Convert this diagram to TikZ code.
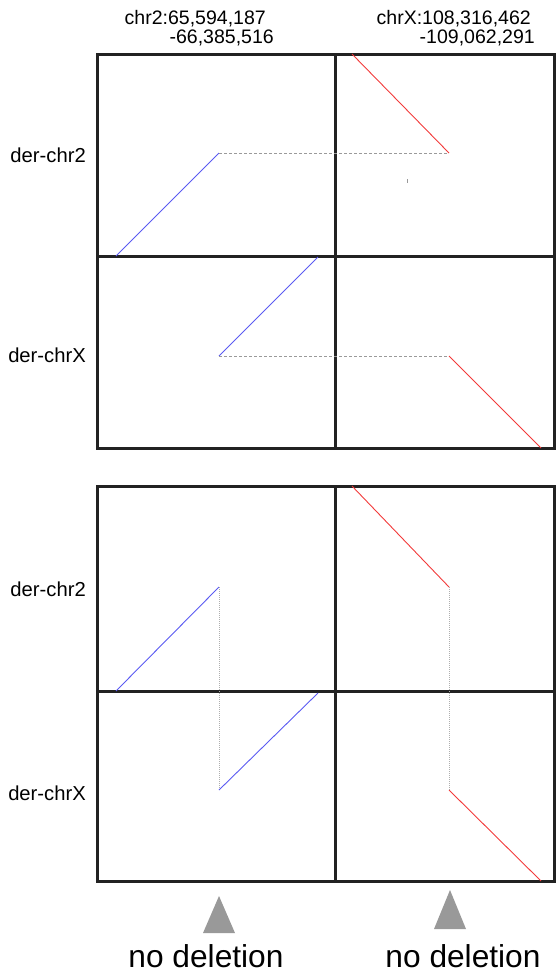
\documentclass[tikz,border=0pt]{standalone}
\usepackage{fontspec}
\setmainfont{Liberation Sans}
\usetikzlibrary{positioning,calc}
\definecolor{segA}{HTML}{5a5af2}
\definecolor{segB}{HTML}{f23a3a}
\definecolor{frameC}{HTML}{222222}
\definecolor{linkC}{HTML}{9a9a9a}
\definecolor{markC}{HTML}{999999}

\begin{document}
\begin{tikzpicture}[x=1bp,y=-1bp,frame/.style={draw=frameC,line width=3bp},seg/.style={line width=0.9bp},
  link/.style={draw=linkC,line width=0.9bp,dash pattern=on 3bp off 2bp},vlink/.style={draw=linkC!80,line width=0.8bp,dash pattern=on 1bp off 1bp},
  lab/.style={font=\fontsize{20.3}{18}\selectfont,inner sep=0pt},hdr/.style={font=\fontsize{19.6}{18}\selectfont,inner sep=0pt,anchor=base east},
  big/.style={font=\fontsize{31.8}{30}\selectfont,inner sep=0pt}]
\useasboundingbox (0,0) rectangle (556,973);
% panels
\foreach \t/\m/\b in {54/256/448,486/691/881}{
  \draw[frame] (97,\t) rectangle (554,\b);
  \draw[frame] (335,\t) -- (335,\b);
  \draw[frame] (97,\m) -- (554,\m);
}
% headers and row labels
\node[hdr] (hdrA) at (266,24) {chr2:65,594,187};
\node[hdr] (hdrAe) at (274,43) {-66,385,516};
\node[hdr] (hdrB) at (531,24) {chrX:108,316,462};
\node[hdr] (hdrBe) at (535,43) {-109,062,291};
\node[lab,anchor=east] (rowA) at (86,155) {der-chr2};
\node[lab,anchor=east] (rowB) at (86,355) {der-chrX};
\node[lab,anchor=east] (rowC) at (86,589) {der-chr2};
\node[lab,anchor=east] (rowD) at (86,793) {der-chrX};
% upper panel
\coordinate (a0) at (116,256); \coordinate (a1) at (219,153); \coordinate (b1) at (449,153); \coordinate (b0) at (352,54);
\coordinate (c0) at (318,257); \coordinate (c1) at (219,356); \coordinate (d1) at (449,356); \coordinate (d0) at (541,448);
\draw[seg,segA] (a0) -- (a1);
\draw[link] (a1) -- (b1);
\draw[seg,segB] (b0) -- (b1);
\draw[seg,segA] (c0) -- (c1);
\draw[link] (c1) -- (d1);
\draw[seg,segB] (d1) -- (d0);
\draw[markC,line width=0.6bp] (407,179) -- (407,183);
% lower panel
\coordinate (e0) at (116,691); \coordinate (e1) at (219,587); \coordinate (f1) at (219,790); \coordinate (f0) at (318,693);
\coordinate (g0) at (352,486); \coordinate (g1) at (449,587); \coordinate (h1) at (449,790); \coordinate (h0) at (541,881);
\draw[seg,segA] (e0) -- (e1);
\draw[vlink] (e1) -- (f1);
\draw[seg,segA] (f1) -- (f0);
\draw[seg,segB] (g0) -- (g1);
\draw[vlink] (g1) -- (h1);
\draw[seg,segB] (h1) -- (h0);
% markers
\fill[markC] (203,933) -- (219,896) -- (235,933) -- cycle;
\fill[markC] (434,929) -- (450,890) -- (466,929) -- cycle;
\node[big,anchor=base] (noA) at (206,967) {no deletion};
\node[big,anchor=base] (noB) at (463,967) {no deletion};
\end{tikzpicture}
\end{document}
